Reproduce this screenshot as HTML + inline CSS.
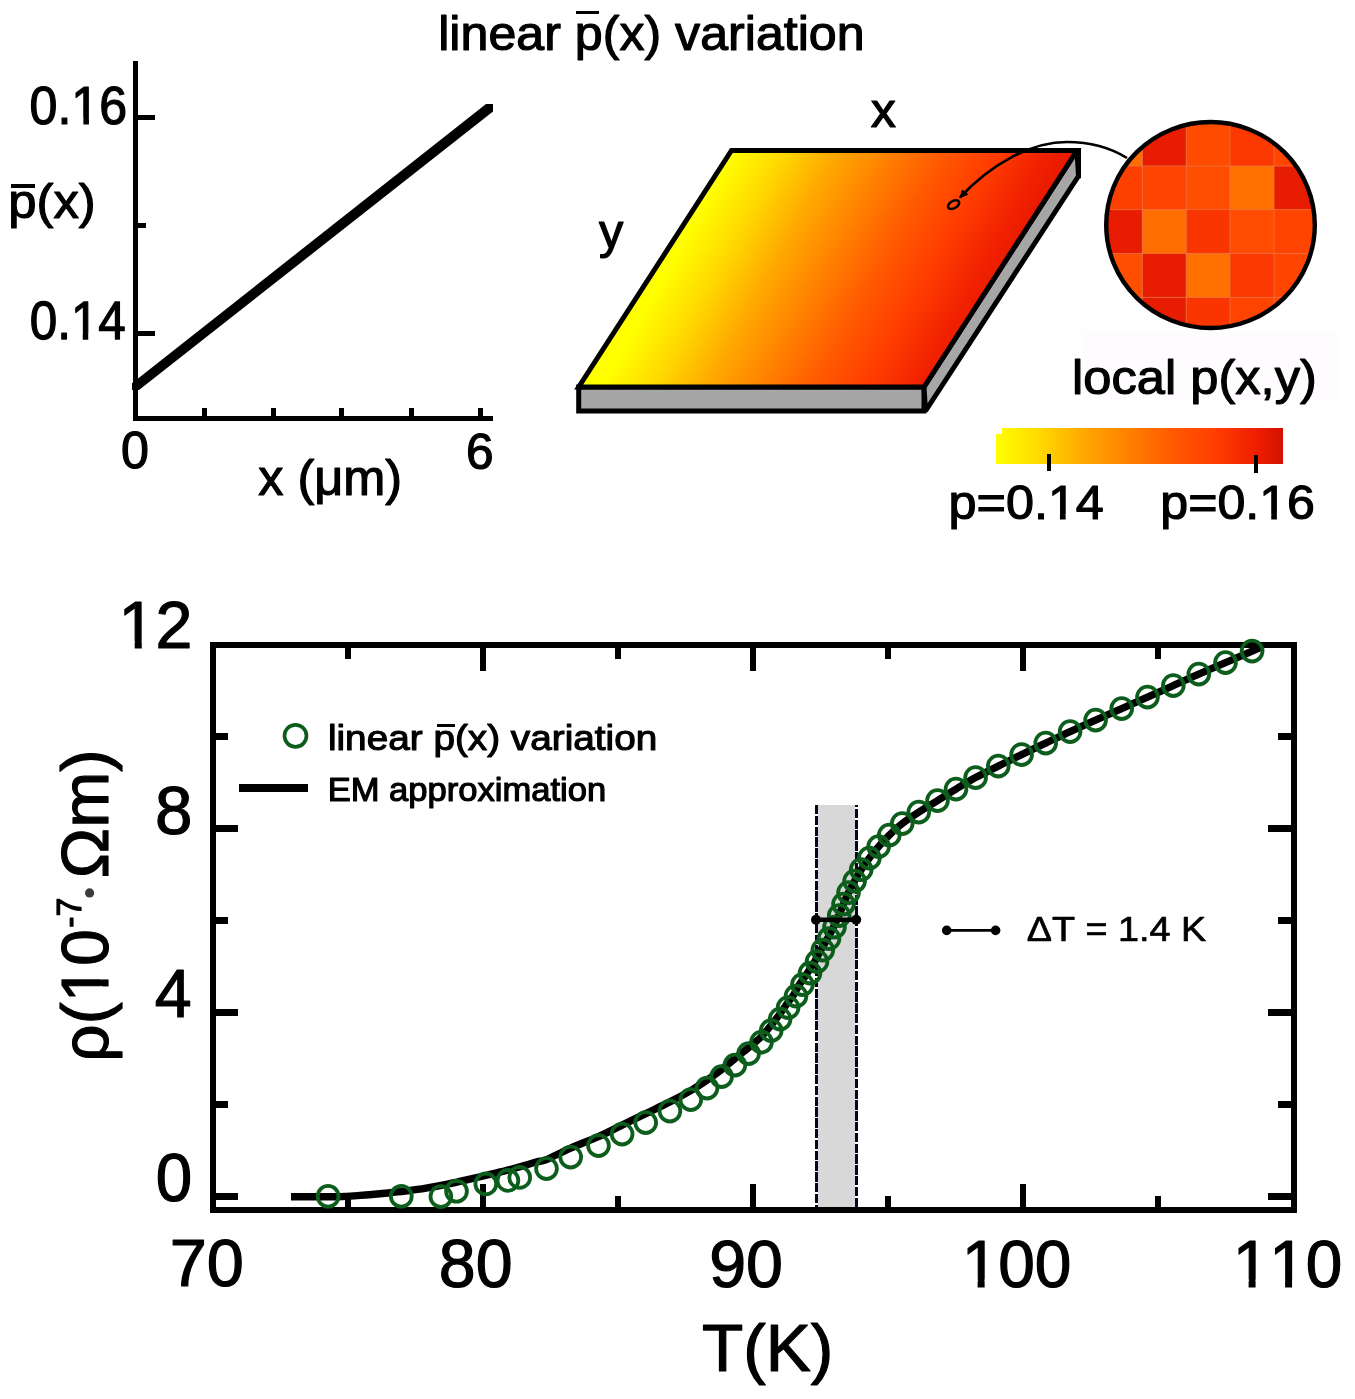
<!DOCTYPE html>
<html><head><meta charset="utf-8"><title>figure</title>
<style>html,body{margin:0;padding:0;background:#fff;}svg{display:block;will-change:transform;font-family:"Liberation Sans",sans-serif;font-kerning:none;font-variant-ligatures:none;}</style>
</head><body>
<svg width="1355" height="1399" viewBox="0 0 1355 1399">
<rect x="0" y="0" width="1355" height="1399" fill="#fff"/>
<defs>
<linearGradient id="gs" gradientUnits="userSpaceOnUse" x1="0" y1="0" x2="345.5" y2="0" gradientTransform="matrix(1 0 -0.54900 1 814.12 0)">
<stop offset="0" stop-color="#ffff00"/>
<stop offset="0.154" stop-color="#ffd800"/>
<stop offset="0.307" stop-color="#ffa800"/>
<stop offset="0.464" stop-color="#ff8000"/>
<stop offset="0.614" stop-color="#ff5a00"/>
<stop offset="0.768" stop-color="#ff3c00"/>
<stop offset="0.92" stop-color="#f02000"/>
<stop offset="1.0" stop-color="#e81800"/>
</linearGradient>
<linearGradient id="gb" gradientUnits="userSpaceOnUse" x1="996" y1="0" x2="1283" y2="0">
<stop offset="0" stop-color="#ffff00"/>
<stop offset="0.154" stop-color="#ffd800"/>
<stop offset="0.307" stop-color="#ffa800"/>
<stop offset="0.464" stop-color="#ff8000"/>
<stop offset="0.614" stop-color="#ff5a00"/>
<stop offset="0.768" stop-color="#ff3c00"/>
<stop offset="0.9" stop-color="#f02000"/>
<stop offset="1.0" stop-color="#d41000"/>
</linearGradient>
<clipPath id="cc"><ellipse cx="1210.5" cy="225" rx="104.5" ry="103.2"/></clipPath>
</defs>
<text transform="matrix(0.25074 0 0 0.24138 438.22 49.98)" font-size="200" fill="#000" stroke="#000" stroke-width="4.88" stroke-linejoin="round">linear p(x) variation</text>
<rect x="576.30" y="11.00" width="22.60" height="3.00" fill="#000" shape-rendering="crispEdges"/>
<g shape-rendering="crispEdges">
<rect x="133.00" y="61.00" width="5.00" height="360.00" fill="#000" />
<rect x="133.00" y="416.00" width="360.20" height="5.00" fill="#000" />
<rect x="138.00" y="115.00" width="17.00" height="5.00" fill="#000" />
<rect x="138.00" y="330.60" width="16.60" height="5.00" fill="#000" />
<rect x="138.00" y="223.00" width="7.80" height="5.00" fill="#000" />
<rect x="201.70" y="408.00" width="5.20" height="8.00" fill="#000" />
<rect x="271.00" y="408.00" width="5.20" height="8.00" fill="#000" />
<rect x="339.00" y="408.00" width="5.20" height="8.00" fill="#000" />
<rect x="409.00" y="408.00" width="5.20" height="8.00" fill="#000" />
<rect x="477.60" y="408.00" width="5.20" height="8.00" fill="#000" />
</g>
<polygon points="132,383.2 132,390 139,390 493,111.6 493,104 486,104" fill="#000"/>
<text transform="matrix(0.25063 0 0 0.26906 29.54 123.57)" font-size="200" fill="#000" stroke="#000" stroke-width="4.62" stroke-linejoin="round">0.16</text>
<rect transform="matrix(0.25063 0 0 0.26906 29.54 123.57)" x="176.72" y="-21.75" width="38.06" height="29.06" fill="#fff"/>
<rect transform="matrix(0.25063 0 0 0.26906 29.54 123.57)" x="237.07" y="-21.75" width="36.50" height="29.06" fill="#fff"/>
<text transform="matrix(0.24708 0 0 0.27118 29.67 339.47)" font-size="200" fill="#000" stroke="#000" stroke-width="4.63" stroke-linejoin="round">0.14</text>
<rect transform="matrix(0.24708 0 0 0.27118 29.67 339.47)" x="176.72" y="-21.76" width="38.06" height="29.07" fill="#fff"/>
<rect transform="matrix(0.24708 0 0 0.27118 29.67 339.47)" x="237.08" y="-21.76" width="36.50" height="29.07" fill="#fff"/>
<text transform="matrix(0.25381 0 0 0.23924 8.33 217.67)" font-size="200" fill="#000" stroke="#000" stroke-width="4.87" stroke-linejoin="round">p(x)</text>
<rect x="11.00" y="184.40" width="23.90" height="4.00" fill="#000" shape-rendering="crispEdges"/>
<text transform="matrix(0.25103 0 0 0.25565 121.04 468.30)" font-size="200" fill="#000" stroke="#000" stroke-width="4.74" stroke-linejoin="round">0</text>
<text transform="matrix(0.24814 0 0 0.24858 466.08 469.11)" font-size="200" fill="#000" stroke="#000" stroke-width="4.83" stroke-linejoin="round">6</text>
<text transform="matrix(0.25236 0 0 0.25063 258.23 494.72)" font-size="200" fill="#000" stroke="#000" stroke-width="4.77" stroke-linejoin="round">x (μm)</text>
<g stroke="#000" stroke-width="5" stroke-linejoin="miter">
<polygon points="578.7,387 924,387 924,411 578.7,411" fill="#a6a6a6"/>
<polygon points="1077,150.5 1078.5,176 925.5,411 924,387" fill="#a6a6a6" stroke-linejoin="bevel"/>
<polygon points="731.5,150.5 1077,150.5 924,387 578.7,387" fill="url(#gs)"/>
<rect x="1076" y="148" width="5" height="30.3" fill="#000" stroke="none"/>
</g>
<text transform="matrix(0.25208 0 0 0.24417 870.83 127.40)" font-size="200" fill="#000" stroke="#000" stroke-width="4.84" stroke-linejoin="round">x</text>
<text transform="matrix(0.24314 0 0 0.24258 599.08 248.43)" font-size="200" fill="#000" stroke="#000" stroke-width="4.94" stroke-linejoin="round">y</text>
<path d="M1127,158 C1111,148 1090,142 1067,142 C1030,142 990,165 960,197.5" fill="none" stroke="#000" stroke-width="2.6"/>
<polygon points="959.3,198.6 962.2,189.6 968.6,194.4" fill="#000"/>
<ellipse cx="953.6" cy="204.6" rx="6.2" ry="3.6" transform="rotate(-30 953.6 204.6)" fill="none" stroke="#000" stroke-width="2.5"/>
<rect x="1082.00" y="330.00" width="256.00" height="69.50" fill="#fffcff" />
<g clip-path="url(#cc)">
<rect x="1090.00" y="110.00" width="52.80" height="56.50" fill="#ff6d00" />
<rect x="1142.30" y="110.00" width="44.40" height="56.50" fill="#e81c00" />
<rect x="1186.20" y="110.00" width="44.30" height="56.50" fill="#ff4b00" />
<rect x="1230.00" y="110.00" width="44.50" height="56.50" fill="#fb3800" />
<rect x="1274.00" y="110.00" width="56.50" height="56.50" fill="#ff4500" />
<rect x="1090.00" y="166.00" width="52.80" height="44.10" fill="#fd4000" />
<rect x="1142.30" y="166.00" width="44.40" height="44.10" fill="#ff4300" />
<rect x="1186.20" y="166.00" width="44.30" height="44.10" fill="#ff4e00" />
<rect x="1230.00" y="166.00" width="44.50" height="44.10" fill="#ff7000" />
<rect x="1274.00" y="166.00" width="56.50" height="44.10" fill="#e81c00" />
<rect x="1090.00" y="209.60" width="52.80" height="44.40" fill="#e81c00" />
<rect x="1142.30" y="209.60" width="44.40" height="44.40" fill="#ff6e00" />
<rect x="1186.20" y="209.60" width="44.30" height="44.40" fill="#fb3500" />
<rect x="1230.00" y="209.60" width="44.50" height="44.40" fill="#ff4c00" />
<rect x="1274.00" y="209.60" width="56.50" height="44.40" fill="#ff4400" />
<rect x="1090.00" y="253.50" width="52.80" height="44.40" fill="#ff4e00" />
<rect x="1142.30" y="253.50" width="44.40" height="44.40" fill="#e81c00" />
<rect x="1186.20" y="253.50" width="44.30" height="44.40" fill="#ff7000" />
<rect x="1230.00" y="253.50" width="44.50" height="44.40" fill="#fb3800" />
<rect x="1274.00" y="253.50" width="56.50" height="44.40" fill="#ff4500" />
<rect x="1090.00" y="297.40" width="52.80" height="43.10" fill="#ff4e00" />
<rect x="1142.30" y="297.40" width="44.40" height="43.10" fill="#e81c00" />
<rect x="1186.20" y="297.40" width="44.30" height="43.10" fill="#fb3500" />
<rect x="1230.00" y="297.40" width="44.50" height="43.10" fill="#ff4300" />
<rect x="1274.00" y="297.40" width="56.50" height="43.10" fill="#ff4500" />
<rect x="1141.80" y="110.00" width="1.00" height="230.00" fill="#e8784a" opacity="0.75"/>
<rect x="1185.70" y="110.00" width="1.00" height="230.00" fill="#e8784a" opacity="0.75"/>
<rect x="1229.50" y="110.00" width="1.00" height="230.00" fill="#e8784a" opacity="0.75"/>
<rect x="1273.50" y="110.00" width="1.00" height="230.00" fill="#e8784a" opacity="0.75"/>
<rect x="1090.00" y="165.50" width="240.00" height="1.00" fill="#e8784a" opacity="0.75"/>
<rect x="1090.00" y="209.10" width="240.00" height="1.00" fill="#e8784a" opacity="0.75"/>
<rect x="1090.00" y="253.00" width="240.00" height="1.00" fill="#e8784a" opacity="0.75"/>
<rect x="1090.00" y="296.90" width="240.00" height="1.00" fill="#e8784a" opacity="0.75"/>
</g>
<ellipse cx="1210.5" cy="225" rx="104.3" ry="103" fill="none" stroke="#000" stroke-width="4.4"/>
<text transform="matrix(0.25313 0 0 0.24085 1072.09 394.30)" font-size="200" fill="#000" stroke="#000" stroke-width="4.86" stroke-linejoin="round">local p(x,y)</text>
<path d="M1002,427.7 H1283 V463.7 H996 V433.6 H1002 Z" fill="url(#gb)" shape-rendering="crispEdges"/>
<rect x="1046.90" y="454.30" width="4.10" height="17.10" fill="#000" shape-rendering="crispEdges"/>
<rect x="1253.80" y="455.20" width="4.10" height="17.40" fill="#000" shape-rendering="crispEdges"/>
<text transform="matrix(0.25161 0 0 0.23682 948.56 519.17)" font-size="200" fill="#000" stroke="#000" stroke-width="4.91" stroke-linejoin="round">p=0.14</text>
<rect transform="matrix(0.25161 0 0 0.23682 948.56 519.17)" x="404.60" y="-21.90" width="38.06" height="29.36" fill="#fff"/>
<rect transform="matrix(0.25161 0 0 0.23682 948.56 519.17)" x="465.25" y="-21.90" width="36.50" height="29.36" fill="#fff"/>
<text transform="matrix(0.25067 0 0 0.23792 1160.27 519.13)" font-size="200" fill="#000" stroke="#000" stroke-width="4.91" stroke-linejoin="round">p=0.16</text>
<rect transform="matrix(0.25067 0 0 0.23792 1160.27 519.13)" x="404.60" y="-21.90" width="38.06" height="29.35" fill="#fff"/>
<rect transform="matrix(0.25067 0 0 0.23792 1160.27 519.13)" x="465.25" y="-21.90" width="36.50" height="29.35" fill="#fff"/>
<rect x="818.00" y="805.00" width="37.00" height="402.00" fill="#d8d8d8" shape-rendering="crispEdges"/>
<g stroke="#05051a" stroke-width="3" stroke-dasharray="9.4 1.4" shape-rendering="crispEdges">
<line x1="816.5" y1="805" x2="816.5" y2="1207"/>
<line x1="856.4" y1="1207" x2="856.4" y2="805"/>
</g>
<g shape-rendering="crispEdges">
<rect x="212.7" y="645.1" width="1081" height="564.9" fill="none" stroke="#000" stroke-width="6.2"/>
<rect x="215.00" y="1193.40" width="23.20" height="6.80" fill="#000" />
<rect x="1268.10" y="1193.40" width="22.90" height="6.80" fill="#000" />
<rect x="215.00" y="1009.28" width="23.20" height="6.80" fill="#000" />
<rect x="1268.10" y="1009.28" width="22.90" height="6.80" fill="#000" />
<rect x="215.00" y="825.16" width="23.20" height="6.80" fill="#000" />
<rect x="1268.10" y="825.16" width="22.90" height="6.80" fill="#000" />
<rect x="215.00" y="1101.44" width="13.00" height="6.60" fill="#000" />
<rect x="1277.90" y="1101.44" width="13.10" height="6.60" fill="#000" />
<rect x="215.00" y="917.32" width="13.00" height="6.60" fill="#000" />
<rect x="1277.90" y="917.32" width="13.10" height="6.60" fill="#000" />
<rect x="215.00" y="733.20" width="13.00" height="6.60" fill="#000" />
<rect x="1277.90" y="733.20" width="13.10" height="6.60" fill="#000" />
<rect x="479.90" y="1184.20" width="6.00" height="23.30" fill="#000" />
<rect x="479.90" y="647.50" width="6.00" height="23.00" fill="#000" />
<rect x="749.90" y="1184.20" width="6.00" height="23.30" fill="#000" />
<rect x="749.90" y="647.50" width="6.00" height="23.00" fill="#000" />
<rect x="1019.90" y="1184.20" width="6.00" height="23.30" fill="#000" />
<rect x="1019.90" y="647.50" width="6.00" height="23.00" fill="#000" />
<rect x="344.90" y="1196.00" width="6.00" height="11.50" fill="#000" />
<rect x="344.90" y="647.50" width="6.00" height="11.00" fill="#000" />
<rect x="614.90" y="1196.00" width="6.00" height="11.50" fill="#000" />
<rect x="614.90" y="647.50" width="6.00" height="11.00" fill="#000" />
<rect x="884.90" y="1196.00" width="6.00" height="11.50" fill="#000" />
<rect x="884.90" y="647.50" width="6.00" height="11.00" fill="#000" />
<rect x="1154.90" y="1196.00" width="6.00" height="11.50" fill="#000" />
<rect x="1154.90" y="647.50" width="6.00" height="11.00" fill="#000" />
</g>
<path d="M291.0,1196.8 C298.8,1196.8 326.5,1196.9 338.0,1196.7 C349.5,1196.5 351.7,1196.0 360.0,1195.4 C368.3,1194.8 380.5,1193.7 388.0,1193.0 C395.5,1192.3 398.7,1192.0 405.0,1191.2 C411.3,1190.4 418.5,1189.5 426.0,1188.2 C433.5,1186.9 442.3,1185.2 450.0,1183.6 C457.7,1182.0 465.3,1180.1 472.0,1178.6 C478.7,1177.1 483.7,1175.9 490.0,1174.4 C496.3,1172.9 504.2,1171.1 510.0,1169.6 C515.8,1168.1 520.5,1166.6 525.0,1165.3 C529.5,1164.0 533.4,1162.8 537.0,1161.8 C540.6,1160.8 540.9,1161.9 546.5,1159.6 C552.1,1157.3 562.0,1151.9 570.7,1148.1 C579.4,1144.3 589.9,1140.4 598.5,1136.6 C607.1,1132.8 614.2,1128.9 622.1,1125.1 C630.0,1121.3 637.7,1117.5 645.7,1113.6 C653.7,1109.7 662.4,1105.7 669.9,1101.9 C677.4,1098.1 684.6,1094.2 690.8,1090.6 C697.0,1087.0 701.9,1083.6 707.0,1080.1 C712.1,1076.6 717.0,1073.2 721.6,1069.6 C726.2,1066.0 730.4,1062.3 734.9,1058.6 C739.4,1054.9 744.2,1051.3 748.6,1047.6 C753.0,1043.9 757.7,1040.3 761.5,1036.6 C765.3,1032.8 768.1,1028.9 771.2,1025.1 C774.3,1021.3 777.3,1017.4 780.1,1013.6 C782.9,1009.8 786.0,1005.0 788.1,1002.1 C790.2,999.2 790.9,999.0 792.8,996.1 C794.7,993.2 797.0,988.4 799.4,984.6 C801.8,980.8 804.8,976.9 807.3,973.1 C809.8,969.3 812.4,965.4 814.6,961.6 C816.9,957.8 818.6,953.9 820.8,950.1 C822.9,946.3 825.4,942.4 827.5,938.6 C829.6,934.8 831.6,930.9 833.5,927.1 C835.4,923.3 837.0,919.4 838.7,915.6 C840.4,911.8 841.9,907.9 843.5,904.1 C845.1,900.3 846.6,896.4 848.5,892.6 C850.4,888.8 852.5,884.9 854.6,881.1 C856.7,877.3 858.7,873.4 861.2,869.6 C863.7,865.8 866.5,861.9 869.4,858.1 C872.3,854.3 875.3,850.4 878.6,846.6 C881.9,842.8 885.4,838.9 889.3,835.1 C893.2,831.3 897.3,827.4 902.2,823.6 C907.1,819.8 912.9,815.9 918.8,812.1 C924.7,808.3 931.3,804.4 937.5,800.6 C943.7,796.8 949.6,792.9 956.0,789.1 C962.4,785.3 968.6,781.4 975.6,777.6 C982.6,773.8 990.6,769.9 998.3,766.1 C1006.0,762.3 1013.7,758.4 1021.6,754.6 C1029.5,750.8 1037.6,746.9 1045.7,743.1 C1053.8,739.3 1061.8,735.4 1070.1,731.6 C1078.4,727.8 1087.0,723.9 1095.6,720.1 C1104.2,716.3 1113.0,712.4 1121.7,708.6 C1130.4,704.8 1138.9,700.9 1147.5,697.1 C1156.1,693.3 1164.8,689.4 1173.3,685.6 C1181.8,681.8 1190.1,677.9 1198.8,674.1 C1207.5,670.3 1216.6,666.4 1225.5,662.6 C1234.4,658.8 1245.8,653.8 1252.1,651.1 C1258.3,648.4 1261.2,647.0 1263.0,646.2" fill="none" stroke="#000" stroke-width="7.4" stroke-linecap="butt"/>
<g fill="none" stroke="#0d5e1c" stroke-width="3.8">
<circle cx="328.1" cy="1196.3" r="10.4"/>
<circle cx="401.3" cy="1196.3" r="10.4"/>
<circle cx="440.9" cy="1196.6" r="10.4"/>
<circle cx="456.5" cy="1191.3" r="10.4"/>
<circle cx="485.8" cy="1183.9" r="10.4"/>
<circle cx="507.9" cy="1180.4" r="10.4"/>
<circle cx="519.7" cy="1177.4" r="10.4"/>
<circle cx="546.5" cy="1168.6" r="10.4"/>
<circle cx="570.7" cy="1157.1" r="10.4"/>
<circle cx="598.5" cy="1145.6" r="10.4"/>
<circle cx="622.1" cy="1134.1" r="10.4"/>
<circle cx="645.7" cy="1122.6" r="10.4"/>
<circle cx="669.9" cy="1111.1" r="10.4"/>
<circle cx="690.8" cy="1099.6" r="10.4"/>
<circle cx="707.0" cy="1088.1" r="10.4"/>
<circle cx="721.6" cy="1076.6" r="10.4"/>
<circle cx="734.9" cy="1065.1" r="10.4"/>
<circle cx="748.6" cy="1053.6" r="10.4"/>
<circle cx="761.5" cy="1042.1" r="10.4"/>
<circle cx="771.2" cy="1030.6" r="10.4"/>
<circle cx="780.1" cy="1019.1" r="10.4"/>
<circle cx="788.1" cy="1007.6" r="10.4"/>
<circle cx="796.0" cy="996.1" r="10.4"/>
<circle cx="802.4" cy="984.6" r="10.4"/>
<circle cx="810.0" cy="973.1" r="10.4"/>
<circle cx="817.0" cy="961.6" r="10.4"/>
<circle cx="822.8" cy="950.1" r="10.4"/>
<circle cx="829.0" cy="938.6" r="10.4"/>
<circle cx="834.5" cy="927.1" r="10.4"/>
<circle cx="839.2" cy="915.6" r="10.4"/>
<circle cx="843.5" cy="904.1" r="10.4"/>
<circle cx="848.5" cy="892.6" r="10.4"/>
<circle cx="854.6" cy="881.1" r="10.4"/>
<circle cx="861.2" cy="869.6" r="10.4"/>
<circle cx="869.4" cy="858.1" r="10.4"/>
<circle cx="878.6" cy="846.6" r="10.4"/>
<circle cx="889.3" cy="835.1" r="10.4"/>
<circle cx="902.2" cy="823.6" r="10.4"/>
<circle cx="918.8" cy="812.1" r="10.4"/>
<circle cx="937.5" cy="800.6" r="10.4"/>
<circle cx="956.0" cy="789.1" r="10.4"/>
<circle cx="975.6" cy="777.6" r="10.4"/>
<circle cx="998.3" cy="766.1" r="10.4"/>
<circle cx="1021.6" cy="754.6" r="10.4"/>
<circle cx="1045.7" cy="743.1" r="10.4"/>
<circle cx="1070.1" cy="731.6" r="10.4"/>
<circle cx="1095.6" cy="720.1" r="10.4"/>
<circle cx="1121.7" cy="708.6" r="10.4"/>
<circle cx="1147.5" cy="697.1" r="10.4"/>
<circle cx="1173.3" cy="685.6" r="10.4"/>
<circle cx="1198.8" cy="674.1" r="10.4"/>
<circle cx="1225.5" cy="662.6" r="10.4"/>
<circle cx="1252.1" cy="651.1" r="10.4"/>
</g>
<line x1="816" y1="919.8" x2="856.2" y2="919.8" stroke="#000" stroke-width="4.5"/>
<circle cx="816" cy="919.8" r="5" fill="#000"/><circle cx="856.2" cy="919.8" r="5" fill="#000"/>
<line x1="946.7" y1="930.4" x2="995.6" y2="930.4" stroke="#000" stroke-width="2.8"/>
<circle cx="946.7" cy="930.4" r="4.8" fill="#000"/><circle cx="995.6" cy="930.4" r="4.8" fill="#000"/>
<text transform="matrix(0.18897 0 0 0.17151 1026.72 941.15)" font-size="200" fill="#000" stroke="#000" stroke-width="3.88" stroke-linejoin="round">ΔT = 1.4 K</text>
<circle cx="295.5" cy="735.8" r="11" fill="none" stroke="#0d5e1c" stroke-width="3.7"/>
<rect x="238.90" y="784.40" width="69.30" height="8.00" fill="#000" shape-rendering="crispEdges"/>
<text transform="matrix(0.19376 0 0 0.17734 327.89 749.60)" font-size="200" fill="#000" stroke="#000" stroke-width="6.47" stroke-linejoin="round">linear p(x) variation</text>
<rect x="436.60" y="724.40" width="18.30" height="2.90" fill="#000" shape-rendering="crispEdges"/>
<text transform="matrix(0.17284 0 0 0.16561 327.66 800.90)" font-size="200" fill="#000" stroke="#000" stroke-width="7.09" stroke-linejoin="round">EM approximation</text>
<text transform="matrix(0.33184 0 0 0.32940 118.62 648.10)" font-size="200" fill="#000" stroke="#000" stroke-width="3.63" stroke-linejoin="round">12</text>
<rect transform="matrix(0.33184 0 0 0.32940 118.62 648.10)" x="10.42" y="-21.26" width="38.06" height="28.07" fill="#fff"/>
<rect transform="matrix(0.33184 0 0 0.32940 118.62 648.10)" x="69.78" y="-21.26" width="36.50" height="28.07" fill="#fff"/>
<text transform="matrix(0.33672 0 0 0.34463 155.07 833.63)" font-size="200" fill="#000" stroke="#000" stroke-width="3.52" stroke-linejoin="round">8</text>
<text transform="matrix(0.33141 0 0 0.34521 154.68 1017.40)" font-size="200" fill="#000" stroke="#000" stroke-width="3.55" stroke-linejoin="round">4</text>
<text transform="matrix(0.32739 0 0 0.34180 155.74 1200.73)" font-size="200" fill="#000" stroke="#000" stroke-width="3.59" stroke-linejoin="round">0</text>
<text transform="matrix(0.33318 0 0 0.33545 169.68 1286.34)" font-size="200" fill="#000" stroke="#000" stroke-width="3.59" stroke-linejoin="round">70</text>
<text transform="matrix(0.33114 0 0 0.34180 438.82 1287.23)" font-size="200" fill="#000" stroke="#000" stroke-width="3.57" stroke-linejoin="round">80</text>
<text transform="matrix(0.33175 0 0 0.33545 709.19 1286.54)" font-size="200" fill="#000" stroke="#000" stroke-width="3.60" stroke-linejoin="round">90</text>
<text transform="matrix(0.32905 0 0 0.33545 961.67 1286.54)" font-size="200" fill="#000" stroke="#000" stroke-width="3.61" stroke-linejoin="round">100</text>
<rect transform="matrix(0.32905 0 0 0.33545 961.67 1286.54)" x="10.43" y="-21.25" width="38.06" height="28.05" fill="#fff"/>
<rect transform="matrix(0.32905 0 0 0.33545 961.67 1286.54)" x="69.77" y="-21.25" width="36.50" height="28.05" fill="#fff"/>
<text transform="matrix(0.32807 0 0 0.33545 1232.69 1286.54)" font-size="200" fill="#000" stroke="#000" stroke-width="3.62" stroke-linejoin="round">110</text>
<rect transform="matrix(0.32807 0 0 0.33545 1232.69 1286.54)" x="10.43" y="-21.25" width="38.06" height="28.06" fill="#fff"/>
<rect transform="matrix(0.32807 0 0 0.33545 1232.69 1286.54)" x="69.78" y="-21.25" width="36.50" height="28.06" fill="#fff"/>
<rect transform="matrix(0.32807 0 0 0.33545 1232.69 1286.54)" x="121.66" y="-21.25" width="38.06" height="28.06" fill="#fff"/>
<rect transform="matrix(0.32807 0 0 0.33545 1232.69 1286.54)" x="181.01" y="-21.25" width="36.50" height="28.06" fill="#fff"/>
<text transform="matrix(0.33802 0 0 0.33275 701.88 1370.62)" font-size="200" fill="#000" stroke="#000" stroke-width="3.58" stroke-linejoin="round">T(K)</text>
<text transform="matrix(0 -0.32868 0.33257 0 107.60 1061.64)" font-size="200" fill="#000" stroke="#000" stroke-width="3.63" stroke-linejoin="round">ρ(10</text>
<rect transform="matrix(0 -0.32868 0.33257 0 107.60 1061.64)" x="190.79" y="-21.26" width="38.06" height="28.07" fill="#fff"/>
<rect transform="matrix(0 -0.32868 0.33257 0 107.60 1061.64)" x="250.15" y="-21.26" width="36.50" height="28.07" fill="#fff"/>
<text transform="matrix(0 -0.16867 0.17224 0 81.30 927.80)" font-size="200" fill="#000" stroke="#000" stroke-width="7.04" stroke-linejoin="round">-7</text>
<circle cx="89.6" cy="892.9" r="4.6" fill="#3c3c3c"/>
<text transform="matrix(0 -0.33663 0.33382 0 107.58 878.16)" font-size="200" fill="#000" stroke="#000" stroke-width="3.58" stroke-linejoin="round">Ωm)</text>
</svg></body></html>
